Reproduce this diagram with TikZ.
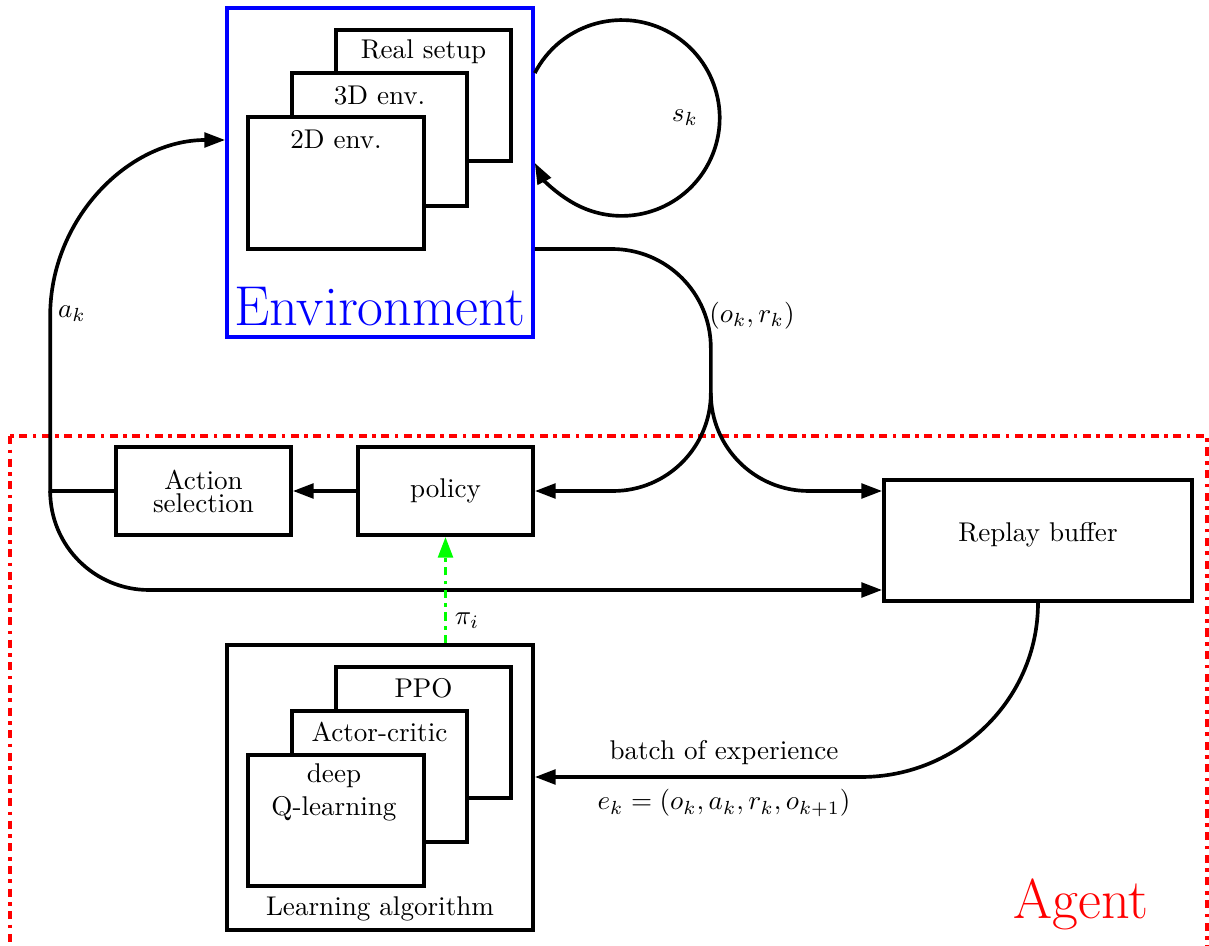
\documentclass[tikz,border=0pt]{standalone}
\usetikzlibrary{arrows.meta}
\begin{document}
\begin{tikzpicture}[x=0.369pt,y=0.369pt, line width=1.35pt,
  box/.style={draw, rectangle, inner sep=0pt, fill=white},
  sz/.style 2 args={minimum width=#1*0.369pt, minimum height=#2*0.369pt},
  arr/.style={-{Triangle[length=7.7pt,width=5.4pt]}},
  lab/.style={inner sep=0pt, anchor=base},
  bigtext/.style={inner sep=0pt, anchor=base, font=\huge}]
\useasboundingbox (0,0) rectangle (1209,-946);

% Agent frame
\draw[red, dashdotted] (10,-436) rectangle (1207,-990);
\node[bigtext, text=red] (agentt) at (1081,-918) {Agent};

% Environment
\node[box, draw=blue, sz={306}{329}] (env) at (380,-172.5) {};
\node[box, sz={175}{131}] (real) at (423.5,-95.5) {};
\node[lab] (realt) at (423.5,-59) {Real setup};
\node[box, sz={175}{133}] (d3) at (379.5,-139.5) {};
\node[lab] (d3t) at (379.5,-105) {3D env.};
\node[box, sz={176}{132}] (d2) at (336,-183) {};
\node[lab] (d2t) at (336,-149) {2D env.};
\node[bigtext, text=blue] (envt) at (380,-326) {Environment};

% Agent components
\node[box, sz={175}{88}] (policy) at (445.5,-491) {policy};
\node[box, sz={175}{88}, align=center] (action) at (203.5,-491) {Action\\[-3.5pt]selection};
\node[box, sz={308}{121}, text height=7pt, text depth=6pt] (replay) at (1038,-540.5) {Replay buffer};

% Learning algorithm
\node[box, sz={306}{285}] (learn) at (380,-787.5) {};
\node[lab] (learnt) at (380,-915) {Learning algorithm};
\node[box, sz={175}{131}] (ppo) at (423.5,-732.5) {};
\node[lab] (ppot) at (423.5,-698) {PPO};
\node[box, sz={175}{131}] (ac) at (379.5,-776.5) {};
\node[lab] (act) at (379.5,-742) {Actor-critic};
\node[box, sz={176}{131}] (dq) at (336,-820.5) {};
\node[inner sep=0pt, align=center] (dqt) at (334,-792.5) {deep\\Q-learning};

% helper coordinates (taken from mid-side anchors so that y stays exact)
\path (env.east) ++(0,99.5) coordinate (loopA);
\path (env.east) ++(0,-76.5) coordinate (outA);
\path (env.west) ++(0,32.5) coordinate (inA);
\path (action.west) ++(-64,0) coordinate (aL);
\path (aL) ++(0,175) coordinate (aTop);
\path (replay.west) ++(0,-49.5) coordinate (rB);
\path (learn.east) ++(0,10.5) coordinate (lA);
\path (lA -| replay.south) ++(-177,0) coordinate (cE);

% s_k loop
\draw[arr] (loopA) arc[start angle=152.65, end angle=-152.65, radius=97.9];
\node (sk) at (685,-118) {$s_k$};

% observations and rewards
\draw (outA) -- ++(77,0) to[out=0,in=90] ++(99,-99) -- ++(0,-45) coordinate (split);
\draw[arr] (split) to[out=-90,in=0] ++(-98,-98) -- (policy.east);
\draw[arr] (split) to[out=-90,in=180] ++(98,-98) -- (replay.west |- policy.east);
\node (ok) at (752,-316) {$(o_k,r_k)$};

% actions
\draw[arr] (policy.west) -- (action.east);
\draw[arr] (action.west) -- (aL) -- (aTop) to[out=90,in=180] (inA);
\node (ak) at (72,-314) {$a_k$};
\draw[arr] (aL) to[out=-90,in=180] ++(99,-99) -- (rB);

% experience
\draw[arr] (replay.south) to[out=-90,in=0] (cE) -- (lA);
\node[lab] (bt) at (724,-760) {batch of experience};
\node[lab] (ekt) at (724,-810) {$e_k=(o_k,a_k,r_k,o_{k+1})$};

% policy update
\draw[green, dashdotted, arr] (policy.south |- learn.north) -- (policy.south);
\node (pii) at (467,-621) {$\pi_i$};
\end{tikzpicture}
\end{document}
